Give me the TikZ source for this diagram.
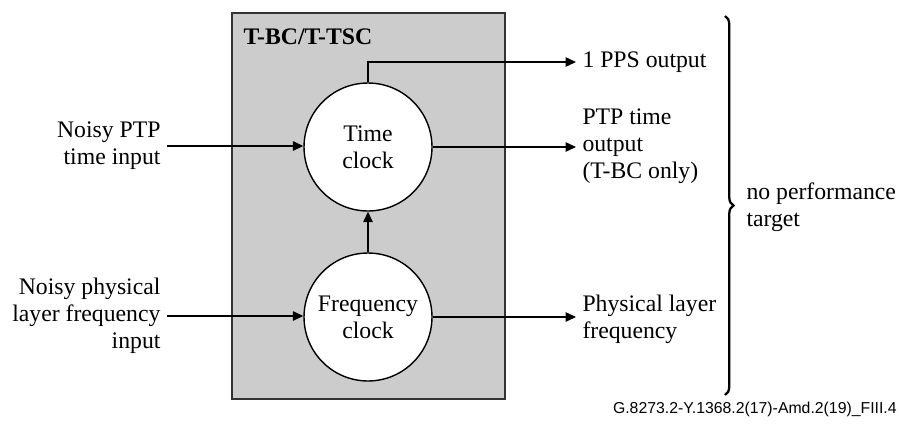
\documentclass[tikz,border=0pt]{standalone}
\usepackage{fontspec}
\setmainfont{Liberation Serif}
\newfontfamily\capfont{Liberation Sans}
\usetikzlibrary{arrows.meta}
\usetikzlibrary{decorations.pathreplacing}
\tikzset{
  % the two clocks inside the grey box
  clock/.style={circle,draw=black,fill=white,line width=0.8pt,
    minimum size=2.56cm,inner sep=0pt,align=center,
    font=\fontsize{13.5}{15.5}\selectfont},
  lbl/.style={inner sep=3.5pt,font=\fontsize{13.5}{15.5}\selectfont},
  % signal arrow with a filled head
  sig/.style={draw=black,line width=0.8pt,-{Triangle[length=2.1mm,width=1.9mm]}},
}

\begin{document}
\begin{tikzpicture}[x=0.02cm,y=-0.02cm]
\useasboundingbox (0,0) rectangle (899,423);
\draw [fill=gray!40,draw=black!80,line width=1pt] (232,13) rectangle (505,399);
\node[lbl,anchor=west,font=\fontsize{13.5}{15.5}\selectfont\bfseries] (title) at (237,37){T-BC/T-TSC};

\node[clock] (time) at (368,147){Time\\clock};
\node[clock] (freq) at (368,317){Frequency\\clock};

\node[lbl,anchor=east,align=right] (ptpin) at (167,146){Noisy PTP\\time input};
\node[lbl,anchor=east,align=right] (phyin) at (167,316){Noisy physical\\layer frequency\\input};

\node[lbl,anchor=west] (pps) at (576,62){1 PPS output};
\node[lbl,anchor=west,align=left] (ptpout) at (576,146){PTP time\\output\\(T-BC only)};
\node[lbl,anchor=west,align=left] (phys) at (576,319){Physical layer\\frequency};

\draw[sig] (ptpin.east) -- (ptpin.east -| time.west);
\draw[sig] (phyin.east) -- (phyin.east -| freq.west);
\draw[sig] (freq.north) -- (time.south);
\draw[sig] (time.north) |- (pps.west);
\draw[sig] (time.east) -- (time.east -| ptpout.west);
\draw[sig] (freq.east) -- (freq.east -| phys.west);

\coordinate (brtop) at (725,16);
\coordinate (brbot) at (725,395);
\draw [decorate,decoration={brace,amplitude=0.17cm},line width=1.3pt] (brtop) -- (brbot);
\node[lbl,anchor=west,align=left] (nopt) at (740,207){no performance\\target};

\node[anchor=east,inner sep=0pt,font=\capfont\fontsize{9}{11}\selectfont] (fig) at (897,409){G.8273.2-Y.1368.2(17)-Amd.2(19)\_FIII.4};
\end{tikzpicture}
\end{document}
